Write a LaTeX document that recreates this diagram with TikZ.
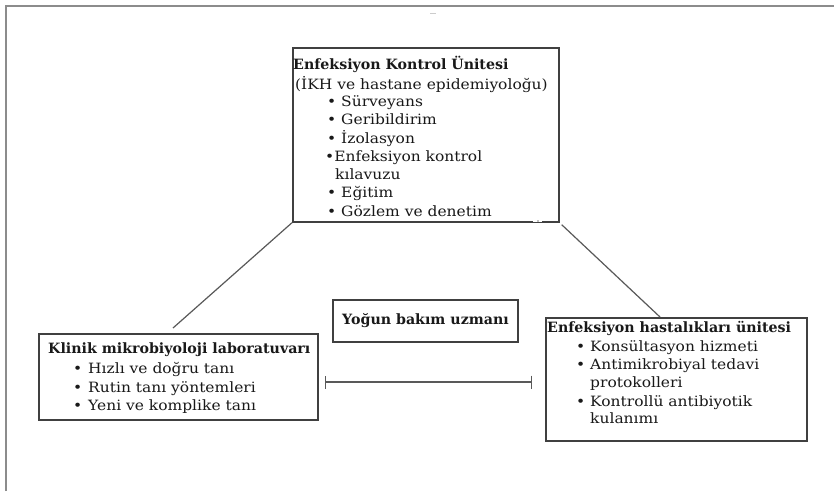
\documentclass[tikz,border=0pt]{standalone}
\usepackage{fontspec}
\setmainfont{DejaVu Serif}
\newfontfamily\regf{DejaVu Serif}[FakeStretch=1.09]
\usetikzlibrary{arrows.meta}
\begin{document}
\begin{tikzpicture}[x=1pt,y=-1pt,
  box/.style={draw=black!75, line width=1.7pt, inner sep=0pt, anchor=north west},
  ttl/.style={anchor=base west, inner sep=0pt, text=black!90, font=\fontsize{14.2}{16}\selectfont\bfseries},
  itm/.style={anchor=base west, inner sep=0pt, text=black!90, font=\regf\fontsize{14.2}{16}\selectfont},
  conn/.style={draw=black!65, line width=1.2pt}]
\useasboundingbox (0,0) rectangle (834,491);
\fill[white] (0,0) rectangle (834,491);
% outer frame
\draw[black!45, line width=2pt] (6,491) -- (6,6) -- (834,6);
\draw[black!20, line width=1pt] (430,13) -- (436,13);
% boxes
\node[box, minimum width=266pt, minimum height=174pt] (ekb) at (292,47) {};
\node[box, minimum width=279pt, minimum height=86pt] (lab) at (38,333) {};
\node[box, minimum width=261pt, minimum height=123pt] (ehu) at (545,317) {};
\node[box, anchor=center, minimum width=185pt, minimum height=42pt,
      font=\fontsize{14.2}{16}\selectfont\bfseries, text=black!90] (ybu) at (425.5,321) {Yoğun bakım uzmanı};
% gap in top box bottom edge
\draw[white, line width=2.4pt] (533,221) -- (542,221);
\fill[black!50] (538,221) circle (0.8);
% top box text
\node[ttl] (t1) at (293,69) {Enfeksiyon Kontrol Ünitesi};
\node[itm] (t2) at (295,89) {(İKH ve hastane epidemiyoloğu)};
\node[itm] (t3) at (327,106) {•\hspace{0pt} Sürveyans};
\node[itm] (t4) at (327,124.5) {•\hspace{0pt} Geribildirim};
\node[itm] (t5) at (327,143) {•\hspace{0pt} İzolasyon};
\node[itm] (t6) at (325,161) {•Enfeksiyon kontrol};
\node[itm] (t7) at (335,179.5) {kılavuzu};
\node[itm] (t8) at (327,197.5) {•\hspace{0pt} Eğitim};
\node[itm] (t9) at (327,216) {•\hspace{0pt} Gözlem ve denetim};
% left box text
\node[ttl] (l1) at (48,353) {Klinik mikrobiyoloji laboratuvarı};
\node[itm] (l2) at (73,373) {•\hspace{1pt} Hızlı ve doğru tanı};
\node[itm] (l3) at (73,392) {•\hspace{1pt} Rutin tanı yöntemleri};
\node[itm] (l4) at (73,410) {•\hspace{1pt} Yeni ve komplike tanı};
% right box text
\node[ttl] (r1) at (547,332) {Enfeksiyon hastalıkları ünitesi};
\node[itm] (r2) at (576,351) {• Konsültasyon hizmeti};
\node[itm] (r3) at (576,369) {• Antimikrobiyal tedavi};
\node[itm] (r4) at (590,387) {protokolleri};
\node[itm] (r5) at (576,406) {• Kontrollü antibiyotik};
\node[itm] (r6) at (590,423) {kulanımı};
% connectors
\coordinate (lc) at (173,328);
\coordinate (ru) at (660,317);
\draw[conn] (ekb.south west) -- (lc);
\draw[conn] ([shift={(2,2)}]ekb.south east) -- (ru);
\coordinate (bl) at (325,382);
\coordinate (br) at (532,382);
\draw[conn, {Bar[width=13pt]}-{Bar[width=13pt]}] (bl) -- (br);
\end{tikzpicture}
\end{document}
